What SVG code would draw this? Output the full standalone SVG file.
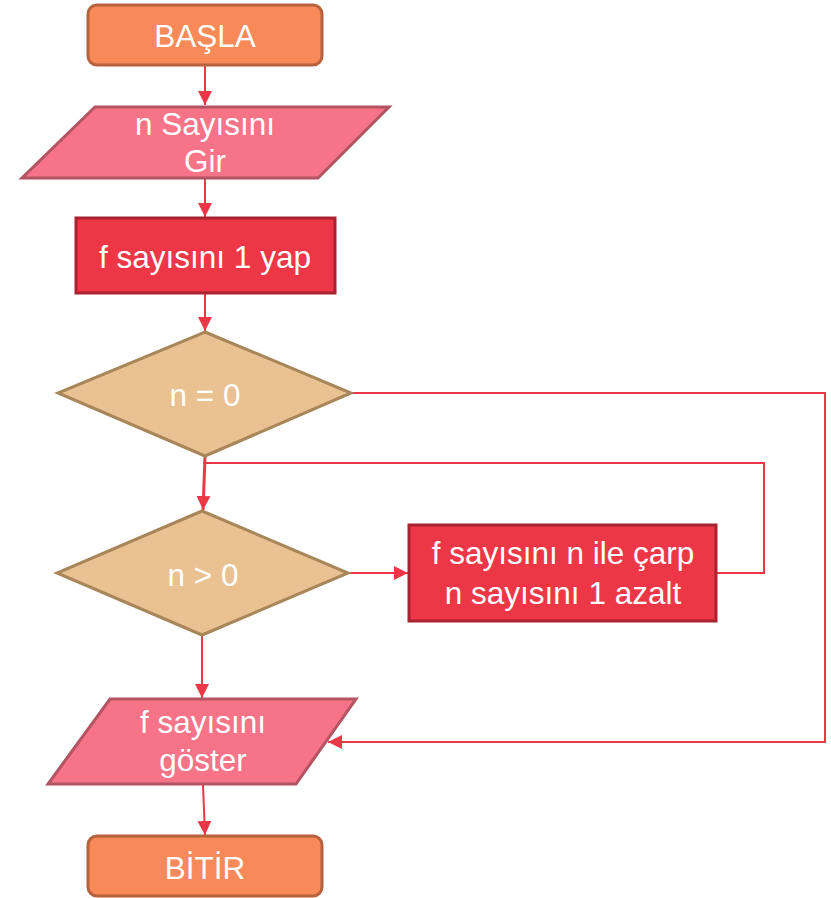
<svg xmlns="http://www.w3.org/2000/svg" width="831" height="898" viewBox="0 0 831 898">
<style>
  .term { fill: #F78A58; stroke: #B8613D; stroke-width: 3; }
  .io { fill: #F77488; stroke: #B25462; stroke-width: 3; }
  .proc { fill: #EE3746; stroke: #A82230; stroke-width: 3; }
  .dec { fill: #EAC191; stroke: #A88659; stroke-width: 3; }
  .lbl { font-family: "Liberation Sans", Arial, sans-serif; font-size: 31.5px; fill: #FFFFFF; text-anchor: middle; }
  .conn { fill: none; stroke: #EE3746; stroke-width: 2; marker-end: url(#arr); }
  .plain { fill: none; stroke: #EE3746; stroke-width: 2; }
</style>
<defs>
  <marker id="arr" viewBox="0 0 14 14" refX="14" refY="7" markerWidth="14" markerHeight="14" markerUnits="userSpaceOnUse" orient="auto">
    <path d="M0,0 L14,7 L0,14 z" fill="#EE3746"/>
  </marker>
</defs>
<rect width="831" height="898" fill="#FFFFFF"/>
<g id="connectors">
  <path class="conn" d="M205,66 L205,105"/>
  <path class="conn" d="M205,179 L205,217"/>
  <path class="conn" d="M205,294 L205,331"/>
  <path class="plain" d="M351,393 L825,393 L825,742 L340,742"/>
  <path class="conn" d="M340,742 L328,742"/>
  <path class="conn" style="stroke-width:3" d="M205,457 L203,510"/>
  <path class="plain" d="M717,573 L764,573 L764,463 L203,463"/>
  <path class="conn" d="M348,573 L408,573"/>
  <path class="conn" d="M202,636 L202,698"/>
  <path class="conn" d="M203,785 L205,835"/>
</g>
<g id="basla">
  <rect class="term" x="88" y="5" width="234" height="60" rx="9"/>
  <text class="lbl" x="205" y="47">BAŞLA</text>
</g>
<g id="n-gir">
  <polygon class="io" points="95,107 389,107 318,178 22,178"/>
  <text class="lbl" x="205" y="135">n Sayısını</text>
  <text class="lbl" x="205" y="172">Gir</text>
</g>
<g id="f-bir">
  <rect class="proc" x="76" y="218" width="259" height="75"/>
  <text class="lbl" x="205" y="268">f sayısını 1 yap</text>
</g>
<g id="n-esit-0">
  <polygon class="dec" points="205,332 351,393 205,456 58,393"/>
  <text class="lbl" x="205" y="406">n = 0</text>
</g>
<g id="n-buyuk-0">
  <polygon class="dec" points="202,511 348,573 202,635 57,573"/>
  <text class="lbl" x="203" y="586">n &gt; 0</text>
</g>
<g id="carp-azalt">
  <rect class="proc" x="409" y="525" width="307" height="96"/>
  <text class="lbl" x="563" y="564">f sayısını n ile çarp</text>
  <text class="lbl" x="563" y="604">n sayısını 1 azalt</text>
</g>
<g id="goster">
  <polygon class="io" points="110,699 356,699 296,784 48,784"/>
  <text class="lbl" x="203" y="733">f sayısını</text>
  <text class="lbl" x="203" y="771">göster</text>
</g>
<g id="bitir">
  <rect class="term" x="88" y="836" width="234" height="60" rx="9"/>
  <text class="lbl" x="205" y="879">BİTİR</text>
</g>
</svg>
